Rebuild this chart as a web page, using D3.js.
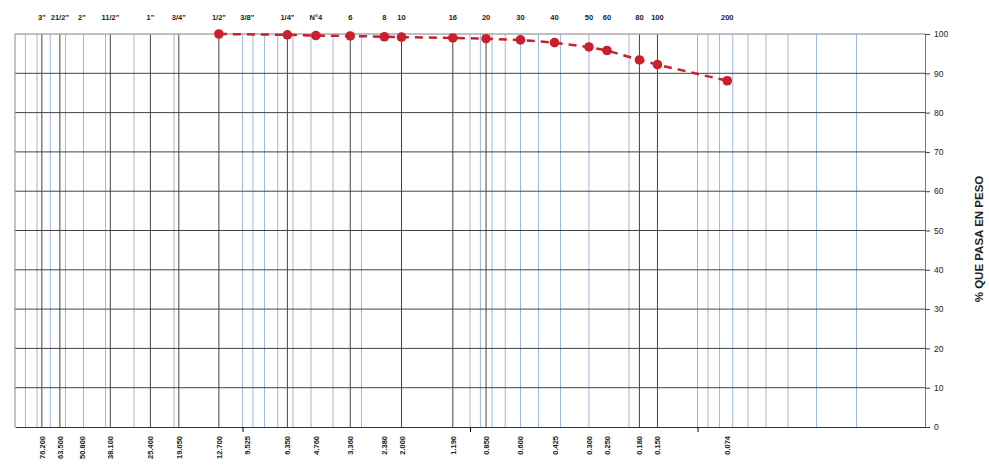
<!DOCTYPE html>
<html>
<head>
<meta charset="utf-8">
<script src="https://cdn.jsdelivr.net/npm/d3@7"></script>
<style>
  body { margin: 0; background: #fff; }
  svg { font-family: "Liberation Sans", Arial, sans-serif; }
</style>
</head>
<body>
<div id="chart"></div>
<script>
// sieve names (top) and openings in mm (bottom)
var sieveNames = ['3"', '21/2"', '2"', '11/2"', '1"', '3/4"', '1/2"', '3/8"', '1/4"', 'N°4',
    '6', '8', '10', '16', '20', '30', '40', '50', '60', '80', '100', '200'];
var sieveSizes = [76.2, 63.5, 50.8, 38.1, 25.4, 19.05, 12.7, 9.525, 6.35, 4.76,
    3.36, 2.38, 2.0, 1.19, 0.85, 0.6, 0.425, 0.3, 0.25, 0.18, 0.15, 0.074];
var sizeLabels = ["76.200", "63.500", "50.800", "38.100", "25.400", "19.050", "12.700", "9.525", "6.350", "4.760",
    "3.360", "2.380", "2.000", "1.190", "0.850", "0.600", "0.425", "0.300", "0.250", "0.180", "0.150", "0.074"];
// sieves drawn with a dark grid line
var majorSieves = [76.2, 63.5, 38.1, 25.4, 19.05, 12.7, 6.35, 3.36, 2.0, 1.19, 0.85, 0.18, 0.15];

// measured curve (% passing)
var curveSizes = [12.7, 6.35, 4.76, 3.36, 2.38, 2.0, 1.19, 0.85, 0.6, 0.425, 0.3, 0.25, 0.18, 0.15, 0.074];
var curvePass = [100, 99.8, 99.6, 99.5, 99.3, 99.2, 99.0, 98.8, 98.5, 97.8, 96.7, 95.8, 93.4, 92.2, 88.1];

var yTicks = [0, 10, 20, 30, 40, 50, 60, 70, 80, 90, 100];

var w = 989, h = 470;
var margin = { left: 15, right: 925, top: 34, bottom: 427 };

var svg = d3.select("#chart").append("svg")
    .attr("width", w)
    .attr("height", h);

var x = d3.scaleLog().domain([100, 0.01]).range([margin.left, margin.right]);
var y = d3.scaleLinear().domain([0, 100]).range([margin.bottom, margin.top]);

// minor log grid (blue)
var minor = [];
[10, 1, 0.1, 0.01].forEach(function (base) {
    for (var k = 1; k <= 9; k++) minor.push(base * k);
});
svg.append("g")
    .selectAll("line")
    .data(minor.filter(v => v > 0.011 && v < 99))
    .enter().append("line")
    .attr("x1", d => x(d)).attr("x2", d => x(d))
    .attr("y1", margin.top).attr("y2", margin.bottom)
    .attr("stroke", "#9db8da")
    .attr("stroke-width", 1);

// sieve grid (dark)
svg.append("g")
    .selectAll("line")
    .data(majorSieves)
    .enter().append("line")
    .attr("x1", d => x(d)).attr("x2", d => x(d))
    .attr("y1", margin.top).attr("y2", margin.bottom)
    .attr("stroke", "#444")
    .attr("stroke-width", 1);

// horizontal grid
svg.append("g")
    .selectAll("line")
    .data(yTicks.filter(v => v > 0 && v < 100))
    .enter().append("line")
    .attr("x1", margin.left).attr("x2", margin.right)
    .attr("y1", d => y(d)).attr("y2", d => y(d))
    .attr("stroke", "#444")
    .attr("stroke-width", 1);

// frame
svg.append("line").attr("x1", margin.left).attr("x2", margin.right)
    .attr("y1", margin.top).attr("y2", margin.top)
    .attr("stroke", "#aaa").attr("stroke-width", 1.5);
svg.append("line").attr("x1", margin.left).attr("x2", margin.left)
    .attr("y1", margin.top).attr("y2", margin.bottom)
    .attr("stroke", "#888").attr("stroke-width", 1);

// bottom axis: decade ticks only
svg.append("g")
    .attr("transform", `translate(0,${margin.bottom})`)
    .call(d3.axisBottom(x).tickValues([10, 1, 0.1]).tickSize(5).tickFormat("").tickSizeOuter(0))
    .call(g => g.select(".domain").attr("stroke", "#333").attr("stroke-width", 1.2));

// right axis
svg.append("g")
    .attr("transform", `translate(${margin.right},0)`)
    .call(d3.axisRight(y).tickValues(yTicks).tickSize(5).tickPadding(4).tickSizeOuter(0))
    .call(g => g.select(".domain").attr("stroke", "#777"))
    .call(g => g.selectAll(".tick line").attr("stroke", "#444"))
    .call(g => g.selectAll("text").attr("font-size", 8.5).attr("fill", "#222")
        .attr("font-family", "Liberation Sans, Arial, sans-serif"));

svg.append("text")
    .attr("transform", `translate(983,239) rotate(-90)`)
    .attr("text-anchor", "middle")
    .attr("font-size", 11.5)
    .attr("font-weight", "bold")
    .attr("fill", "#222")
    .text("% QUE PASA EN PESO");

// top sieve names
svg.append("g")
    .selectAll("text")
    .data(sieveSizes)
    .enter().append("text")
    .attr("x", d => x(d))
    .attr("y", 20)
    .attr("text-anchor", "middle")
    .attr("font-size", 7.5)
    .attr("font-weight", "bold")
    .attr("fill", "#222")
    .text((d, i) => sieveNames[i]);

// bottom mm labels
svg.append("g")
    .selectAll("text")
    .data(sieveSizes)
    .enter().append("text")
    .attr("transform", d => `translate(${x(d) + 3},436) rotate(-90)`)
    .attr("text-anchor", "end")
    .attr("font-size", 7.5)
    .attr("font-weight", "bold")
    .attr("fill", "#222")
    .text((d, i) => sizeLabels[i]);

// curve
var pts = curveSizes.map((s, i) => [s, curvePass[i]]);
var line = d3.line().x(d => x(d[0])).y(d => y(d[1]));
svg.append("path")
    .datum(pts)
    .attr("d", line)
    .attr("fill", "none")
    .attr("stroke", "#c8202c")
    .attr("stroke-width", 2.5)
    .attr("stroke-dasharray", "8,6");

svg.append("g")
    .selectAll("circle")
    .data(pts)
    .enter().append("circle")
    .attr("cx", d => x(d[0]))
    .attr("cy", d => y(d[1]))
    .attr("r", 4.8)
    .attr("fill", "#c8202c");
</script>
</body>
</html>
